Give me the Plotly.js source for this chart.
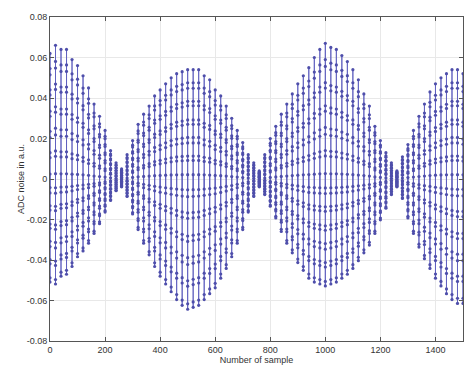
<!DOCTYPE html>
<html><head><meta charset="utf-8">
<script src="https://cdn.plot.ly/plotly-3.0.1.min.js"></script>
<style>html,body{margin:0;padding:0;background:#fff}#chart{width:465px;height:369px}</style>
</head><body><div id="chart"></div>
<script>
// column positions (sample number) where the dot columns are seen
const sampleIdx = [0,20,40,60,80,100,120,140,160,180,200,220,240,260,280,300,320,340,360,380,
  400,420,440,460,480,500,520,540,560,580,600,620,640,660,680,700,720,740,760,780,
  800,820,840,860,880,900,920,940,960,980,1000,1020,1040,1060,1080,1100,1120,1140,1160,1180,
  1200,1220,1240,1260,1280,1300,1320,1340,1360,1380,1400,1420,1440,1460,1480,1500];
// upper envelope of each column
const upperEnv = [0.062,0.066,0.064,0.064,0.059,0.056,0.051,0.045,0.037,0.031,0.024,0.014,0.008,0.005,0.012,0.019,0.027,0.032,0.036,0.041,
  0.044,0.047,0.050,0.052,0.053,0.054,0.054,0.054,0.051,0.049,0.044,0.041,0.036,0.030,0.024,0.018,0.012,0.008,0.004,0.012,
  0.020,0.026,0.032,0.037,0.042,0.047,0.051,0.055,0.060,0.064,0.067,0.065,0.064,0.061,0.058,0.054,0.049,0.042,0.036,0.026,
  0.019,0.013,0.008,0.004,0.011,0.017,0.024,0.031,0.037,0.043,0.047,0.050,0.052,0.054,0.054,0.052];
// lower envelope of each column
const lowerEnv = [-0.053,-0.054,-0.050,-0.049,-0.045,-0.040,-0.037,-0.033,-0.028,-0.023,-0.017,-0.011,-0.006,-0.004,-0.009,-0.018,-0.026,-0.033,-0.039,-0.045,
  -0.050,-0.054,-0.058,-0.062,-0.065,-0.067,-0.066,-0.065,-0.062,-0.059,-0.056,-0.051,-0.046,-0.040,-0.033,-0.026,-0.017,-0.009,-0.004,-0.008,
  -0.014,-0.020,-0.027,-0.033,-0.038,-0.043,-0.047,-0.051,-0.053,-0.054,-0.055,-0.054,-0.053,-0.051,-0.049,-0.046,-0.042,-0.038,-0.034,-0.028,
  -0.021,-0.015,-0.008,-0.004,-0.010,-0.020,-0.028,-0.035,-0.041,-0.046,-0.051,-0.055,-0.059,-0.062,-0.064,-0.064];
// relative levels of the dots stacked in every column (zig-zag order)
const dotLevels = [0.04,-0.13,0.21,-0.29,0.38,-0.46,0.54,-0.63,0.71,-0.79,0.88,-0.96,
  1.00,-0.92,0.83,-0.75,0.67,-0.58,0.50,-0.42,0.33,-0.25,0.17,-0.08];
const xTicks = [0,200,400,600,800,1000,1200,1400];
const xTickText = ['0','200','400','600','800','1000','1200','1400'];
const yTicks = [-0.08,-0.06,-0.04,-0.02,0,0.02,0.04,0.06,0.08];
const yTickText = ['-0.08','-0.06','-0.04','-0.02','0','0.02','0.04','0.06','0.08'];

const xs = [], ys = [];
for (let j = 0; j < sampleIdx.length; j++) {
  for (const lv of dotLevels) {
    xs.push(sampleIdx[j]);
    ys.push(lv >= 0 ? lv * upperEnv[j] : -lv * lowerEnv[j]);
  }
  xs.push(null); ys.push(null);
}

const font = {family: 'Liberation Sans, Arial, sans-serif', size: 9, color: '#333'};
const axisCommon = {
  showline: true, linecolor: '#555', linewidth: 1, mirror: 'ticks',
  ticks: 'inside', ticklen: 4, tickcolor: '#555',
  showgrid: true, gridcolor: '#e8e8e8', gridwidth: 1, zeroline: false,
  tickfont: font
};
const trace = {
  x: xs, y: ys, type: 'scatter', mode: 'lines+markers', connectgaps: false,
  line: {color: 'rgb(95,95,190)', width: 0.9},
  marker: {color: 'rgb(78,78,170)', size: 3.2},
  hoverinfo: 'skip'
};
const layout = {
  width: 465, height: 369,
  margin: {l: 50, r: 2, t: 17, b: 28},
  paper_bgcolor: '#fff', plot_bgcolor: '#fff', showlegend: false,
  xaxis: Object.assign({}, axisCommon, {range: [0, 1500], tickvals: xTicks, ticktext: xTickText,
    title: {text: 'Number of sample', font: font, standoff: 1}}),
  yaxis: Object.assign({}, axisCommon, {range: [-0.08, 0.08], tickvals: yTicks, ticktext: yTickText}),
  annotations: [{text: 'ADC noise in a.u.', font: font, textangle: -90, showarrow: false,
    xref: 'paper', yref: 'paper', x: -0.07, y: 0.5, xanchor: 'center', yanchor: 'middle'}]
};
Plotly.newPlot('chart', [trace], layout, {displayModeBar: false, staticPlot: true});
</script>
</body></html>
